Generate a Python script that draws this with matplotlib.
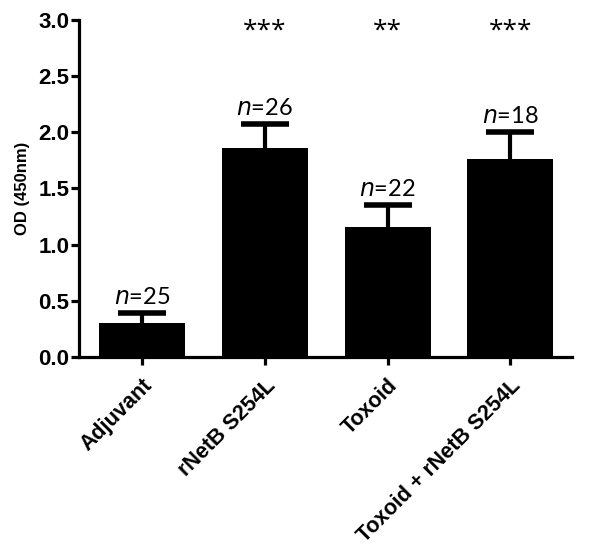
import matplotlib
matplotlib.use("Agg")
import matplotlib.pyplot as plt
import numpy as np

groups = ["Adjuvant", "rNetB S254L", "Toxoid", "Toxoid + rNetB S254L"]
od_mean = [0.30, 1.86, 1.16, 1.76]
od_sem = [0.09, 0.21, 0.19, 0.24]
n_labels = ["25", "26", "22", "18"]
stars = ["", "***", "**", "***"]
yticks = [0.0, 0.5, 1.0, 1.5, 2.0, 2.5, 3.0]

plt.rcParams.update({"font.family": ["Liberation Sans", "DejaVu Sans"]})

fig = plt.figure(figsize=(6.0, 5.56), dpi=100)
ax = fig.add_axes([0.132, 0.358, 0.821, 0.606])

x = np.arange(len(groups))
ax.bar(x, od_mean, width=0.7, color="black", zorder=2)
eb = ax.errorbar(x, od_mean, yerr=[np.zeros(len(od_sem)), od_sem], fmt="none",
                 ecolor="black", elinewidth=3, capsize=17, capthick=4, zorder=1)
# only the upper cap is wanted
caps = eb[1]
caps[0].set_visible(False)

for xi, m, s, n in zip(x, od_mean, od_sem, n_labels):
    ax.text(xi, m + s + 0.05, f"$\\it{{n}}$=" + n, ha="center", va="bottom",
            fontsize=17, family=["Lato", "DejaVu Sans"])
for xi, st in zip(x, stars):
    if st:
        ax.text(xi, 2.84, st, ha="center", va="baseline", fontsize=19,
                family=["Open Sans", "DejaVu Sans"])

ax.set_xlim(-0.51, 3.5)
ax.set_ylim(0, 3.0)
ax.set_yticks(yticks)
ax.set_yticklabels([f"{v:.1f}" for v in yticks], fontsize=16, fontweight="bold")
ax.set_xticks(x)
ax.set_xticklabels(groups, rotation=45, ha="right", rotation_mode="anchor",
                   fontsize=15.5, fontweight="bold")
ax.set_ylabel("OD (450nm)", fontsize=12, fontweight="bold", labelpad=6)

for sp in ["top", "right"]:
    ax.spines[sp].set_visible(False)
for sp in ["left", "bottom"]:
    ax.spines[sp].set_linewidth(2.3)
ax.tick_params(axis="both", width=2.3, length=6)
ax.tick_params(axis="y", pad=1)
ax.tick_params(axis="x", pad=7)

fig.savefig("out.png", dpi=100)
